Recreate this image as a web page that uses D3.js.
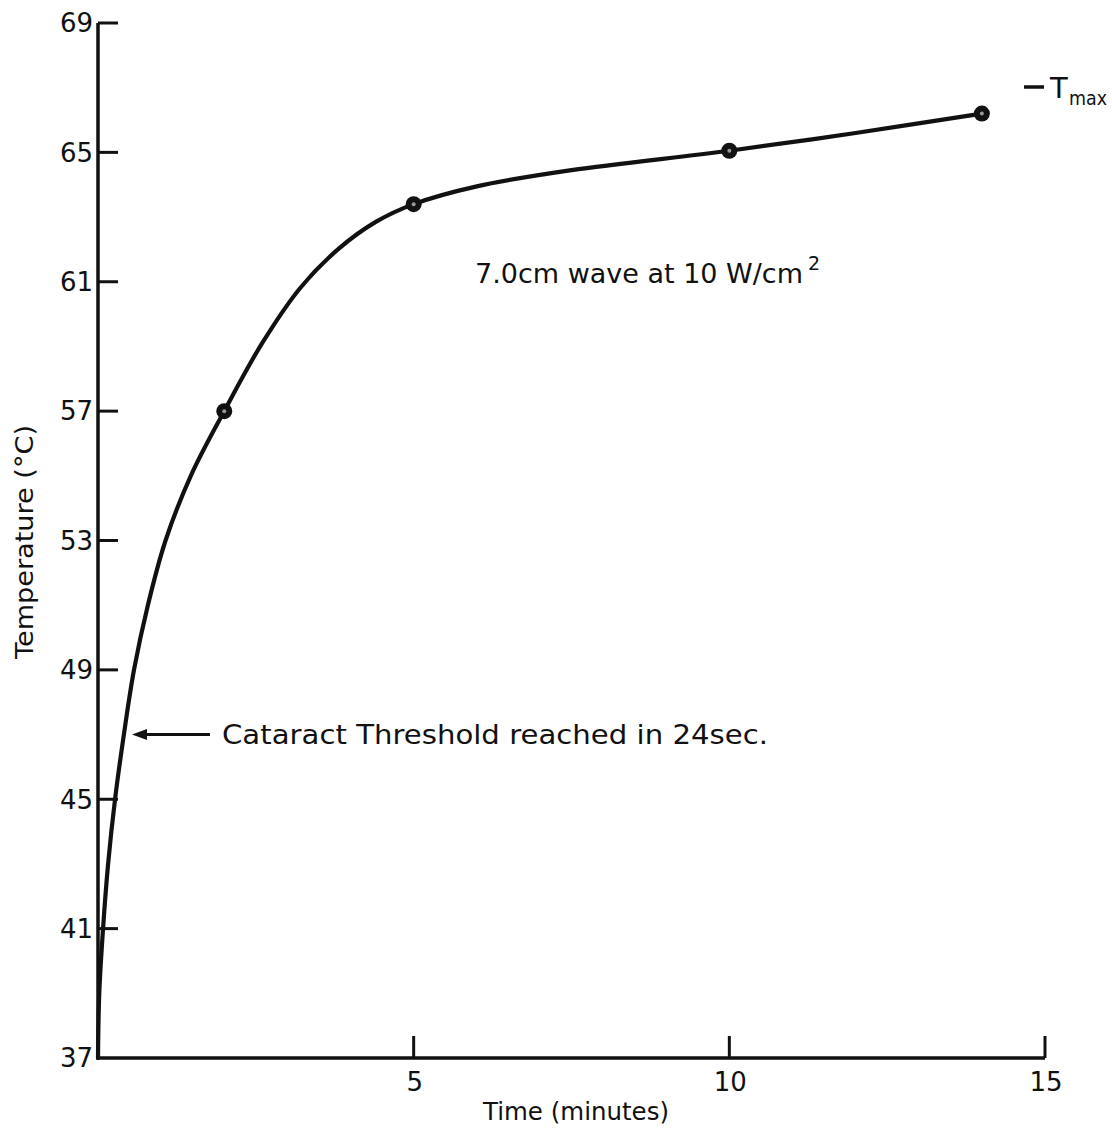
<!DOCTYPE html>
<html>
<head>
<meta charset="utf-8">
<script src="https://cdn.jsdelivr.net/npm/d3@7"></script>
<style>
  html, body { margin: 0; padding: 0; background: #fff; }
  svg { display: block; }
  text { font-family: "DejaVu Sans", "Liberation Sans", sans-serif; fill: #111; }
</style>
</head>
<body>
<script>
// ---- data ----
const curveTime = [0, 0.02, 0.08, 0.16, 0.27, 0.41, 0.57, 0.79, 1.07, 1.47, 2, 2.6, 3.2, 3.8, 4.4, 5, 6, 7.5, 10, 12, 14];
const curveTemp = [37, 39, 41, 43, 45, 47, 49, 51, 53, 55, 57, 59.1, 60.8, 62.0, 62.85, 63.4, 63.95, 64.45, 65.05, 65.6, 66.2];
const pointTime = [2, 5, 10, 14];
const pointTemp = [57, 63.4, 65.05, 66.2];
const xTicks = [5, 10, 15];
const yTicks = [37, 41, 45, 49, 53, 57, 61, 65, 69];
const thresholdTemp = 47;

const W = 1112, H = 1133;
const svg = d3.select("body").append("svg").attr("width", W).attr("height", H);

const x = d3.scaleLinear().domain([0, 15]).range([98, 1045]);
const y = d3.scaleLinear().domain([37, 69]).range([1058, 23]);

const ink = "#111";

// axes lines
svg.append("line").attr("x1", x(0)).attr("x2", x(0)).attr("y1", y(37) + 1.5).attr("y2", y(69))
  .attr("stroke", ink).attr("stroke-width", 3.5);
svg.append("line").attr("x1", x(0) - 1.5).attr("x2", x(15)).attr("y1", y(37)).attr("y2", y(37))
  .attr("stroke", ink).attr("stroke-width", 3.5);

// y ticks (inward) + labels
const yg = svg.append("g");
yg.selectAll("line.t").data(yTicks.filter(d => d !== 37)).join("line")
  .attr("x1", x(0)).attr("x2", x(0) + 20).attr("y1", d => y(d)).attr("y2", d => y(d))
  .attr("stroke", ink).attr("stroke-width", 3);
yg.selectAll("text").data(yTicks).join("text")
  .attr("x", 93).attr("y", d => y(d)).attr("dy", "0.36em")
  .attr("text-anchor", "end").attr("font-size", 26).text(d => d);

// x ticks (upward) + labels
const xg = svg.append("g");
xg.selectAll("line").data(xTicks).join("line")
  .attr("x1", d => x(d)).attr("x2", d => x(d)).attr("y1", y(37)).attr("y2", y(37) - 22)
  .attr("stroke", ink).attr("stroke-width", 3);
xg.selectAll("text").data(xTicks).join("text")
  .attr("x", d => x(d) + 1).attr("y", 1091)
  .attr("text-anchor", "middle").attr("font-size", 26).text(d => d);

// axis titles
svg.append("text").attr("x", 576).attr("y", 1120).attr("text-anchor", "middle")
  .attr("font-size", 25).attr("textLength", 186).attr("lengthAdjust", "spacingAndGlyphs")
  .text("Time (minutes)");
svg.append("text").attr("transform", "translate(33,542) rotate(-90)")
  .attr("text-anchor", "middle").attr("font-size", 25)
  .attr("textLength", 234).attr("lengthAdjust", "spacingAndGlyphs")
  .text("Temperature (°C)");

// curve
const line = d3.line().x((d, i) => x(curveTime[i])).y((d, i) => y(curveTemp[i]))
  .curve(d3.curveCatmullRom.alpha(0.5));
svg.append("path").attr("d", line(curveTime)).attr("fill", "none")
  .attr("stroke", ink).attr("stroke-width", 4.2).attr("stroke-linecap", "round");

// measured points
svg.selectAll("circle.pt").data(pointTime).join("circle")
  .attr("cx", d => x(d)).attr("cy", (d, i) => y(pointTemp[i])).attr("r", 8)
  .attr("fill", ink);
svg.selectAll("circle.in").data(pointTime).join("circle")
  .attr("cx", d => x(d)).attr("cy", (d, i) => y(pointTemp[i])).attr("r", 2)
  .attr("fill", "#999");

// annotation: threshold arrow
const ay = y(thresholdTemp);
const ax = 132;
svg.append("line").attr("x1", ax + 10).attr("x2", 210).attr("y1", ay).attr("y2", ay)
  .attr("stroke", ink).attr("stroke-width", 3);
svg.append("path").attr("d", `M${ax},${ay} L${ax + 15},${ay - 5.5} L${ax + 15},${ay + 5.5} Z`).attr("fill", ink);
svg.append("text").attr("x", 222).attr("y", ay).attr("dy", "0.36em").attr("font-size", 27)
  .attr("textLength", 546).attr("lengthAdjust", "spacingAndGlyphs")
  .text("Cataract Threshold reached in 24sec.");

// wave label
svg.append("text").attr("x", 475).attr("y", 283).attr("font-size", 27)
  .attr("textLength", 328).attr("lengthAdjust", "spacingAndGlyphs")
  .text("7.0cm wave at 10 W/cm");
svg.append("text").attr("x", 808).attr("y", 270).attr("font-size", 19).text("2");

// T max label
svg.append("line").attr("x1", 1024).attr("x2", 1044).attr("y1", 87).attr("y2", 87)
  .attr("stroke", ink).attr("stroke-width", 3.5);
svg.append("text").attr("x", 1050).attr("y", 98).attr("font-size", 29).text("T");
svg.append("text").attr("x", 1069).attr("y", 105).attr("font-size", 20)
  .attr("textLength", 38).attr("lengthAdjust", "spacingAndGlyphs").text("max");
</script>
</body>
</html>
